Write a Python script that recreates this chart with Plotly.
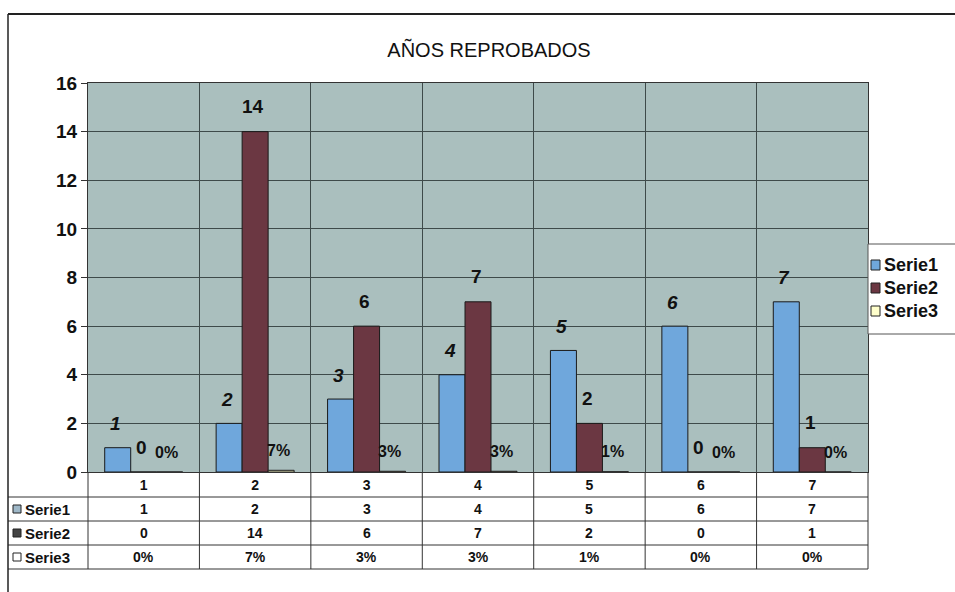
import plotly.graph_objects as go

# ---------------- data ----------------
categories = ["1", "2", "3", "4", "5", "6", "7"]
serie1 = [1, 2, 3, 4, 5, 6, 7]
serie2 = [0, 14, 6, 7, 2, 0, 1]
serie3 = [0.00, 0.07, 0.03, 0.03, 0.01, 0.00, 0.00]
series_names = ["Serie1", "Serie2", "Serie3"]
y_ticks = [0, 2, 4, 6, 8, 10, 12, 14, 16]
title_text = "AÑOS REPROBADOS"

# ---------------- styles ----------------
W, H = 955, 592
PL, PR, PT, PB = 88, 868, 83, 472
colors = ["#6FA7DC", "#6B3742", "#FFFFCC"]
plot_bg = "#AABFBE"
grid_col = "#3E4A4A"
line_col = "#333333"
FONT = "Liberation Sans, Arial, sans-serif"
BAR_PX = 26


def px(x):
    return (x - PL) / (PR - PL)


def py(y):
    return (PB - y) / (PB - PT)


fig = go.Figure()
all_series = [serie1, serie2, serie3]
for name, vals, col in zip(series_names, all_series, colors):
    fig.add_trace(go.Bar(
        x=categories, y=vals, name=name, showlegend=False,
        marker=dict(color=col, line=dict(color="#1A1A1A", width=1)),
        hoverinfo="x+y+name",
    ))

annotations = []
# value labels above bars (x given as category index on the category axis)
for i, vals in enumerate(all_series):
    for ci, v in enumerate(vals):
        if i == 0:
            txt = f"<b><i>{v}</i></b>"
            size, ys, xs = 19, 24, -2
        elif i == 1:
            txt = f"<b>{v}</b>"
            size, ys, xs = 19, 25, -2
        else:
            txt = f"<b>{v:.0%}</b>"
            size, ys, xs = 16, 20, -3
        annotations.append(dict(
            x=ci, y=v, xref="x", yref="y", text=txt, showarrow=False,
            xshift=(i - 1) * BAR_PX + xs, yshift=ys,
            font=dict(family=FONT, size=size, color="#111111"),
            xanchor="center", yanchor="middle",
        ))

# data table rows
row_centers = [509, 533, 557]
for r, (name, vals) in enumerate(zip(series_names, all_series)):
    for ci, v in enumerate(vals):
        txt = f"<b>{v:.0%}</b>" if r == 2 else f"<b>{v}</b>"
        annotations.append(dict(
            x=ci, y=py(row_centers[r]), xref="x", yref="paper", text=txt,
            showarrow=False, xanchor="center", yanchor="middle",
            font=dict(family=FONT, size=14, color="#111111"),
        ))
    annotations.append(dict(
        x=px(23), y=py(row_centers[r]), xref="paper", yref="paper",
        text=f"<b>{name}</b>", showarrow=False, xanchor="left", yanchor="middle",
        font=dict(family=FONT, size=15, color="#111111"),
    ))

shapes = []
# legend keys in table
key_fill = ["#9FB8C8", "#444444", "#FFFFFF"]
for r in range(3):
    shapes.append(dict(
        type="rect", xref="paper", yref="paper",
        x0=px(13), x1=px(21), y0=py(row_centers[r] + 4), y1=py(row_centers[r] - 4),
        fillcolor=key_fill[r], line=dict(color="#222222", width=1),
    ))
# table lines
for yy in [497, 521, 545, 569]:
    shapes.append(dict(type="line", xref="paper", yref="paper",
                       x0=px(8), x1=1, y0=py(yy), y1=py(yy),
                       line=dict(color=line_col, width=1)))
for k in range(len(categories) + 1):
    shapes.append(dict(type="line", xref="paper", yref="paper",
                       x0=k / len(categories), x1=k / len(categories),
                       y0=0, y1=py(569),
                       line=dict(color=line_col, width=1)))
# outer chart frame (left and top)
shapes.append(dict(type="line", xref="paper", yref="paper",
                   x0=px(8), x1=px(8), y0=py(14), y1=py(H),
                   line=dict(color="#222222", width=1.5)))
shapes.append(dict(type="line", xref="paper", yref="paper",
                   x0=px(8), x1=px(W + 5), y0=py(14), y1=py(14),
                   line=dict(color="#222222", width=2)))

# legend box (right side)
LEG_L, LEG_T, LEG_B = 868, 244, 334
shapes.append(dict(type="rect", xref="paper", yref="paper",
                   x0=px(LEG_L), x1=px(W + 5), y0=py(LEG_B), y1=py(LEG_T),
                   fillcolor="white", line=dict(color="#555555", width=1)))
leg_rows = [265, 288, 311]
for r, (name, col) in enumerate(zip(series_names, colors)):
    shapes.append(dict(type="rect", xref="paper", yref="paper",
                       x0=px(871), x1=px(880),
                       y0=py(leg_rows[r] + 5), y1=py(leg_rows[r] - 5),
                       fillcolor=col, line=dict(color="#222222", width=1)))
    annotations.append(dict(
        x=px(882), y=py(leg_rows[r]), xref="paper", yref="paper",
        text=f"<b>{name}</b>", showarrow=False, xanchor="left", yanchor="middle",
        font=dict(family=FONT, size=18, color="#111111"),
    ))

fig.update_layout(
    width=W, height=H,
    margin=dict(l=PL, r=W - PR, t=PT, b=H - PB, pad=0, autoexpand=False),
    paper_bgcolor="white", plot_bgcolor=plot_bg,
    barmode="group", bargap=0.3, bargroupgap=0,
    title=dict(text=title_text, x=489 / W, xanchor="center",
               y=1 - 50 / H, yanchor="middle",
               font=dict(family="Liberation Sans Narrow, Arial Narrow, Liberation Sans, sans-serif",
                         size=20, color="#111111")),
    xaxis=dict(type="category", categoryorder="array", categoryarray=categories,
               range=[-0.5, len(categories) - 0.5],
               tickson="boundaries", ticks="", showgrid=True, gridcolor=grid_col,
               gridwidth=1, showline=True, linecolor=line_col, mirror=True,
               tickfont=dict(family=FONT, size=14, color="#111111", weight="bold"),
               zeroline=False, automargin=False),
    yaxis=dict(range=[0, 16], tickvals=y_ticks, ticks="outside", ticklen=6,
               tickcolor=line_col, showgrid=True, gridcolor=grid_col, gridwidth=1,
               showline=True, linecolor=line_col, mirror=True, zeroline=False,
               automargin=False,
               tickfont=dict(family=FONT, size=19, color="#111111", weight="bold")),
    annotations=annotations,
    shapes=shapes,
)

fig.write_html(
    "out.html",
    config={"displayModeBar": False},
    post_script="document.body.style.margin='0';document.body.style.overflow='hidden';",
)
